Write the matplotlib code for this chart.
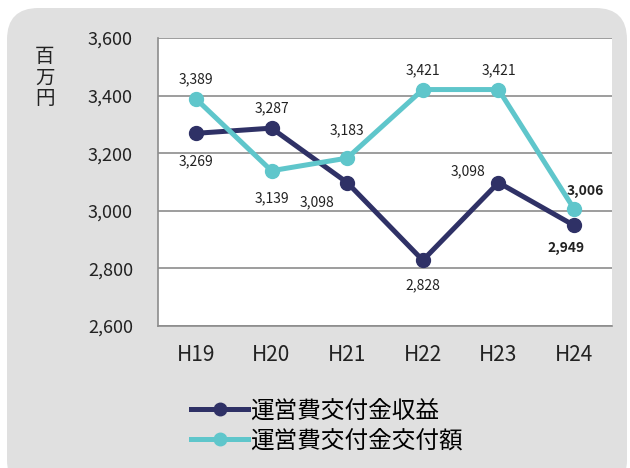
import matplotlib
matplotlib.use('Agg')
import matplotlib.pyplot as plt
from matplotlib.patches import FancyBboxPatch

plt.rcParams['font.family'] = ['Noto Sans CJK JP', 'DejaVu Sans']

years = ['H19', 'H20', 'H21', 'H22', 'H23', 'H24']
revenue = [3269, 3287, 3098, 2828, 3098, 2949]      # 運営費交付金収益
grant = [3389, 3139, 3183, 3421, 3421, 3006]        # 運営費交付金交付額
yticks = [2600, 2800, 3000, 3200, 3400, 3600]

# label offsets (points) for each data label
rev_offsets = [(0, -20), (0, 14), (-22, -14), (0, -18), (-22, 8), (-6, -16)]
grant_offsets = [(0, 14), (0, -20), (0, 20), (0, 14), (0, 14), (8, 13)]

navy = '#2f3166'
teal = '#5fc6cb'
bg = '#e0e0e0'

fig = plt.figure(figsize=(6.3, 4.68), dpi=100)
fig.patch.set_facecolor('white')
box = FancyBboxPatch((7 / 630, -0.05), 620 / 630, 1 - 8 / 468 + 0.05,
                     boxstyle='round,pad=0,rounding_size=0.05',
                     transform=fig.transFigure, facecolor=bg, edgecolor='none',
                     mutation_aspect=630 / 468, zorder=-10)
fig.patches.append(box)

ax = fig.add_axes([158 / 630, 1 - 326 / 468, 454 / 630, 288 / 468])
ax.set_facecolor('white')
x = list(range(len(years)))

l1, = ax.plot(x, revenue, '-o', color=navy, lw=3.6, ms=10, label='運営費交付金収益', zorder=3)
l2, = ax.plot(x, grant, '-o', color=teal, lw=3.6, ms=10, label='運営費交付金交付額', zorder=4)

for i, v in enumerate(revenue):
    ax.annotate(f'{v:,}', (i, v), xytext=rev_offsets[i], textcoords='offset points',
                ha='center', va='center', fontsize=10, color='#222222',
                fontweight='bold' if i == len(revenue) - 1 else 'normal')
for i, v in enumerate(grant):
    ax.annotate(f'{v:,}', (i, v), xytext=grant_offsets[i], textcoords='offset points',
                ha='center', va='center', fontsize=10, color='#222222',
                fontweight='bold' if i == len(grant) - 1 else 'normal')

ax.set_xlim(-0.5, 5.5)
ax.set_ylim(2600, 3600)
ax.set_yticks(yticks)
ax.set_yticklabels([f'{t:,}' for t in yticks])
ax.set_xticks(x)
ax.set_xticklabels(years)
ax.tick_params(axis='y', length=0, pad=18, labelsize=13, labelcolor='#222222')
ax.tick_params(axis='x', length=0, pad=13, labelsize=15, labelcolor='#222222')
ax.grid(axis='y', color='#8c8c8c', lw=1.2)
ax.set_axisbelow(True)
for s in ['top', 'right']:
    ax.spines[s].set_visible(False)
for s in ['left', 'bottom']:
    ax.spines[s].set_color('#8c8c8c')
    ax.spines[s].set_linewidth(1.2)

fig.text(45 / 630, 1 - 78 / 468, '百\n万\n円', ha='center', va='center',
         fontsize=14, color='#222222', linespacing=1.0)

fig.legend(handles=[l1, l2], loc='upper left', bbox_to_anchor=(182 / 630, 1 - 390 / 468),
           frameon=False, fontsize=17, handlelength=2.4, handletextpad=0.1,
           labelspacing=0.3, borderaxespad=0, markerscale=0.9)

fig.savefig('out.png', dpi=100, facecolor=fig.get_facecolor())
